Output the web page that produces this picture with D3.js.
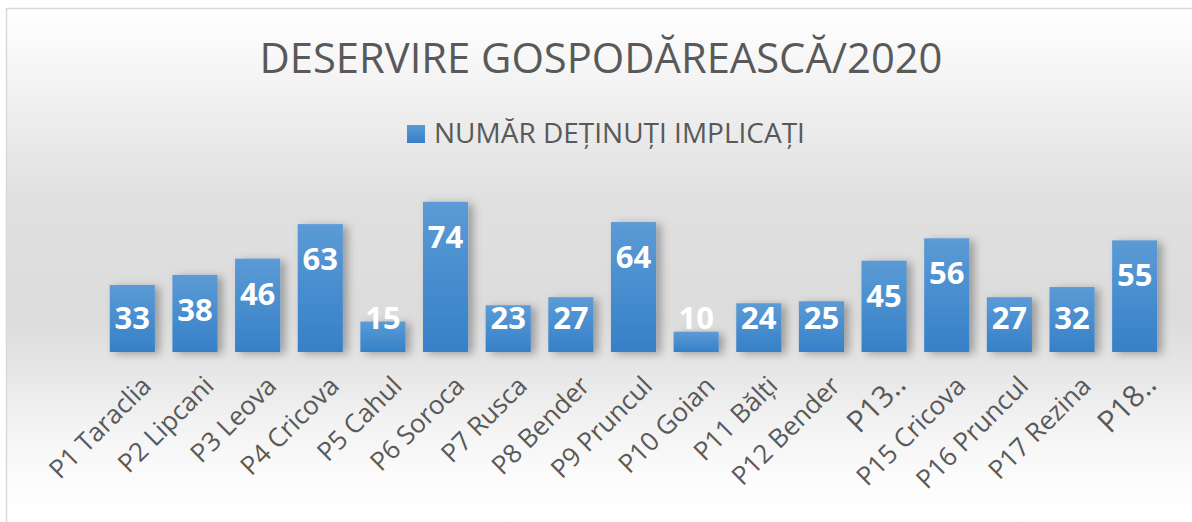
<!DOCTYPE html>
<html>
<head>
<meta charset="utf-8">
<script src="https://cdn.jsdelivr.net/npm/d3@7"></script>
<style>
  body { margin: 0; background: #fff; }
  svg { display: block; }
  text { font-family: "Open Sans", "DejaVu Sans", sans-serif; }
</style>
</head>
<body>
<div class="chart"></div>
<script>
// data
var categories = ["P1 Taraclia", "P2 Lipcani", "P3 Leova", "P4 Cricova", "P5 Cahul", "P6 Soroca",
  "P7 Rusca", "P8 Bender", "P9 Pruncul", "P10 Goian", "P11 Bălți", "P12 Bender", "P13..",
  "P15 Cricova", "P16 Pruncul", "P17 Rezina", "P18.."];
var values = [33, 38, 46, 63, 15, 74, 23, 27, 64, 10, 24, 25, 45, 56, 27, 32, 55];
var seriesName = "NUMĂR DEȚINUȚI IMPLICAȚI";
var title = "DESERVIRE GOSPODĂREASCĂ/2020";

var width = 1192, height = 522;

var svg = d3.select(".chart")
  .append("svg")
  .attr("width", width)
  .attr("height", height);

var defs = svg.append("defs");

// background: light in the top and bottom, grey in the middle
var bg = defs.append("linearGradient")
  .attr("id", "bg")
  .attr("gradientUnits", "userSpaceOnUse")
  .attr("x1", 0).attr("y1", 8).attr("x2", 0).attr("y2", 522);
[[0, "#ffffff"], [0.08, "#f9f9f9"], [0.24, "#ebebeb"], [0.37, "#e0e0e0"], [0.6, "#dcdcdc"],
 [0.7, "#e6e6e6"], [0.82, "#f4f4f4"], [0.92, "#fcfcfc"], [1, "#ffffff"]].forEach(function (s) {
  bg.append("stop").attr("offset", s[0]).attr("stop-color", s[1]);
});

var barGrad = defs.append("linearGradient")
  .attr("id", "barGrad")
  .attr("x1", 0).attr("y1", 0).attr("x2", 0).attr("y2", 1);
barGrad.append("stop").attr("offset", 0).attr("stop-color", "#5b9bd5");
barGrad.append("stop").attr("offset", 1).attr("stop-color", "#3680c8");

var shadow = defs.append("filter")
  .attr("id", "shadow")
  .attr("x", "-30%").attr("y", "-30%").attr("width", "160%").attr("height", "160%");
shadow.append("feDropShadow")
  .attr("dx", 5).attr("dy", 2)
  .attr("stdDeviation", 4)
  .attr("flood-color", "#000")
  .attr("flood-opacity", 0.3);

svg.append("rect")
  .attr("x", 6.5).attr("y", 8.5)
  .attr("width", width + 10).attr("height", height + 10)
  .attr("fill", "url(#bg)")
  .attr("stroke", "#d9d9d9")
  .attr("stroke-width", 1.5);

// title
var titleText = svg.append("text")
  .attr("x", 601)
  .attr("y", 73)
  .attr("text-anchor", "middle")
  .attr("fill", "#595959")
  .style("font-size", "40px")
  .text(title);
var tl = titleText.node().getComputedTextLength();
titleText.style("font-size", (40 * 683 / tl) + "px");

// legend
svg.append("rect")
  .attr("x", 407).attr("y", 125)
  .attr("width", 18).attr("height", 18)
  .attr("fill", "url(#barGrad)");
var legText = svg.append("text")
  .attr("x", 434)
  .attr("y", 143)
  .attr("fill", "#595959")
  .style("font-size", "26px")
  .text(seriesName);
var ll = legText.node().getComputedTextLength();
legText.style("font-size", (26 * 371 / ll) + "px");

// scales
var x = d3.scaleBand()
  .domain(categories)
  .range([101, 1166])
  .paddingInner(0.28)
  .paddingOuter(0.14);

var y = d3.scaleLinear()
  .domain([0, 80])
  .range([352, 189.6]);

var bars = svg.append("g").attr("filter", "url(#shadow)");
bars.selectAll("rect")
  .data(values)
  .enter()
  .append("rect")
  .attr("x", function (d, i) { return x(categories[i]); })
  .attr("y", function (d) { return y(d); })
  .attr("width", x.bandwidth())
  .attr("height", function (d) { return y(0) - y(d); })
  .attr("fill", "url(#barGrad)");

// data labels, inside end but never below the middle of the low bars
svg.append("g")
  .selectAll("text")
  .data(values)
  .enter()
  .append("text")
  .attr("x", function (d, i) { return x(categories[i]) + x.bandwidth() / 2; })
  .attr("y", function (d) { return Math.min(y(d) + 35, 317.5) + 11; })
  .attr("text-anchor", "middle")
  .attr("fill", "#ffffff")
  .style("font-size", "31px")
  .style("font-weight", "bold")
  .text(function (d) { return d; });

// category labels, rotated
var xAxis = d3.axisBottom(x).tickSize(0).tickPadding(0);
var gx = svg.append("g")
  .attr("transform", "translate(0," + y(0) + ")")
  .call(xAxis);
gx.select(".domain").remove();
gx.selectAll(".tick text")
  .attr("fill", "#595959")
  .attr("y", 0)
  .attr("dy", "0.35em")
  .attr("text-anchor", "end")
  .each(function (d) {
    var cut = d.indexOf("..") > 0;
    d3.select(this)
      .style("font-size", cut ? "30px" : "26px")
      .attr("transform", cut ? "translate(16,27) rotate(-45)" : "translate(14,29) rotate(-45)");
  });
</script>
</body>
</html>
